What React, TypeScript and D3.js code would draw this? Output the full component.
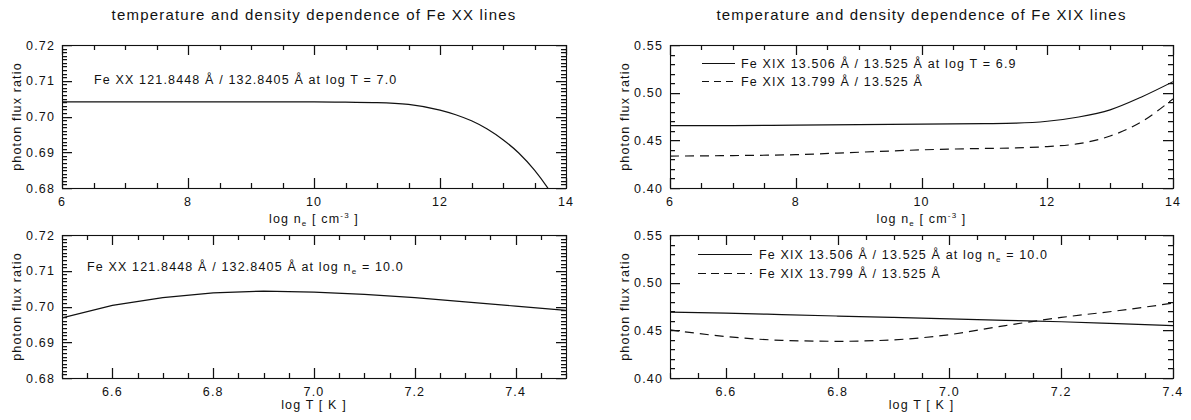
import React from "react";
import * as d3 from "d3";

// Fe XX 121.8448 / 132.8405 ratio versus electron density at log T = 7.0
const FE20_NE = [6, 7, 8, 9, 10, 10.5, 11, 11.5, 12, 12.25, 12.5, 12.75, 13, 13.25, 13.5, 13.75, 14];
const FE20_NE_RATIO = [0.7041, 0.7041, 0.7041, 0.7041, 0.7041, 0.704, 0.7039, 0.7034, 0.7018, 0.7005, 0.6988, 0.6965, 0.6935, 0.6898, 0.685, 0.679, 0.672];

// Fe XX ratio versus temperature at log ne = 10
const FE20_T = [6.5, 6.6, 6.7, 6.8, 6.9, 7.0, 7.1, 7.2, 7.3, 7.4, 7.5];
const FE20_T_RATIO = [0.6968, 0.7003, 0.7025, 0.7038, 0.7043, 0.704, 0.7034, 0.7025, 0.7013, 0.7001, 0.6989];

// Fe XIX ratios versus electron density at log T = 6.9
const FE19_NE = [6, 7, 8, 9, 10, 11, 11.5, 12, 12.5, 13, 13.5, 14];
const FE19_NE_506 = [0.4655, 0.4655, 0.466, 0.4665, 0.467, 0.4675, 0.468, 0.47, 0.4745, 0.482, 0.4955, 0.5115];
const FE19_NE_799 = [0.4335, 0.434, 0.435, 0.4375, 0.44, 0.4415, 0.442, 0.4435, 0.4465, 0.4545, 0.4695, 0.4935];

// Fe XIX ratios versus temperature at log ne = 10
const FE19_T = [6.5, 6.6, 6.7, 6.8, 6.9, 7.0, 7.1, 7.2, 7.3, 7.4];
const FE19_T_506 = [0.469, 0.468, 0.4665, 0.465, 0.4635, 0.462, 0.4605, 0.459, 0.457, 0.455];
const FE19_T_799 = [0.4505, 0.4435, 0.4395, 0.4385, 0.44, 0.4455, 0.455, 0.4635, 0.4705, 0.4785];

const FONT = "'Liberation Sans', Arial, Helvetica, sans-serif";
const SMALL = 12.5;
const LS = 1.15;
const INK = "#111";

type Series = { x: number[]; y: number[]; dashed?: boolean; smooth?: boolean };

function tickValues(lo: number, hi: number, step: number): number[] {
  const out: number[] = [];
  const start = Math.ceil(lo / step - 1e-9);
  for (let i = start; i * step <= hi + 1e-9; i++) out.push(+(i * step).toFixed(6));
  return out;
}

type PanelProps = {
  id: string;
  x0: number;
  y0: number;
  w: number;
  h: number;
  xDomain: [number, number];
  yDomain: [number, number];
  xMajor: number;
  xMinor: number;
  yMajor: number;
  yMinor: number;
  xFmt: string;
  yFmt: string;
  series: Series[];
};

function Panel(p: PanelProps) {
  const x = d3.scaleLinear().domain(p.xDomain).range([p.x0, p.x0 + p.w]);
  const y = d3.scaleLinear().domain(p.yDomain).range([p.y0 + p.h, p.y0]);
  const x1 = p.x0 + p.w;
  const y1 = p.y0 + p.h;
  const majLen = 10;
  const minLen = 5;
  const xMaj = tickValues(p.xDomain[0], p.xDomain[1], p.xMajor);
  const xMin = tickValues(p.xDomain[0], p.xDomain[1], p.xMinor);
  const yMaj = tickValues(p.yDomain[0], p.yDomain[1], p.yMajor);
  const yMin = tickValues(p.yDomain[0], p.yDomain[1], p.yMinor);
  const fx = d3.format(p.xFmt);
  const fy = d3.format(p.yFmt);

  // tick marks on all four sides, built as one path
  let tickPath = "";
  const addX = (v: number, len: number) => {
    const px = Math.round(x(v)) + 0.5;
    tickPath += `M${px},${y1}V${y1 - len}M${px},${p.y0}V${p.y0 + len}`;
  };
  const addY = (v: number, len: number) => {
    const py = Math.round(y(v)) + 0.5;
    tickPath += `M${p.x0},${py}H${p.x0 + len}M${x1},${py}H${x1 - len}`;
  };
  xMin.forEach((v) => addX(v, minLen));
  xMaj.forEach((v) => addX(v, majLen));
  yMin.forEach((v) => addY(v, minLen));
  yMaj.forEach((v) => addY(v, majLen));

  return (
    <g>
      <defs>
        <clipPath id={p.id}>
          <rect x={p.x0} y={p.y0} width={p.w} height={p.h} />
        </clipPath>
      </defs>
      <g clipPath={`url(#${p.id})`} fill="none" stroke={INK} strokeWidth={1.2}>
        {p.series.map((s, i) => {
          const line = d3
            .line<number>()
            .x((_, j) => x(s.x[j]))
            .y((v) => y(v))
            .curve(s.smooth ? d3.curveMonotoneX : d3.curveLinear);
          return <path key={i} d={line(s.y) || ""} strokeDasharray={s.dashed ? "9,6" : undefined} />;
        })}
      </g>
      <rect x={p.x0 + 0.5} y={p.y0 + 0.5} width={p.w} height={p.h} fill="none" stroke={INK} strokeWidth={1.1} />
      <path d={tickPath} fill="none" stroke={INK} strokeWidth={1.25} />
      <g fontFamily={FONT} fontSize={SMALL} letterSpacing={LS} fill={INK}>
        {xMaj.map((v, i) => (
          <text key={"xl" + i} x={x(v)} y={y1 + 18} textAnchor="middle">
            {fx(v)}
          </text>
        ))}
        {yMaj.map((v, i) => (
          <text key={"yl" + i} x={p.x0 - 7} y={y(v) + 4.5} textAnchor="end">
            {fy(v)}
          </text>
        ))}
        <text
          transform={`translate(${p.x0 - 41},${p.y0 + p.h / 2}) rotate(-90)`}
          textAnchor="middle"
        >
          photon flux ratio
        </text>
      </g>
    </g>
  );
}

function NeTitle({ cx, y }: { cx: number; y: number }) {
  return (
    <text x={cx} y={y} textAnchor="middle" fontFamily={FONT} fontSize={SMALL} letterSpacing={LS} fill={INK}>
      log n
      <tspan fontSize={8} dy={3}>e</tspan>
      <tspan dy={-3}> [ cm</tspan>
      <tspan fontSize={8} dy={-5}>-3</tspan>
      <tspan dy={5}> ]</tspan>
    </text>
  );
}

function TTitle({ cx, y }: { cx: number; y: number }) {
  return (
    <text x={cx} y={y} textAnchor="middle" fontFamily={FONT} fontSize={SMALL} letterSpacing={LS} fill={INK}>
      log T [ K ]
    </text>
  );
}

export default function App() {
  const L = 62;
  const R = 670;
  const WL = 504;
  const WR = 503;
  const TOP = 45;
  const BOT = 235;
  const H = 143;

  return (
    <svg width={1191} height={420} style={{ display: "block", margin: "-8px", background: "#fff" }}>
      <rect width={1191} height={420} fill="#fff" />
      <g fontFamily={FONT} fontSize={15} letterSpacing={1.2} textAnchor="middle" fill={INK}>
        <text x={L + WL / 2} y={20}>temperature and density dependence of Fe XX lines</text>
        <text x={R + WR / 2} y={20}>temperature and density dependence of Fe XIX lines</text>
      </g>

      <Panel
        id="c1"
        x0={L} y0={TOP} w={WL} h={H}
        xDomain={[6, 14]} yDomain={[0.68, 0.72]}
        xMajor={2} xMinor={0.5} yMajor={0.01} yMinor={0.001}
        xFmt="d" yFmt=".2f"
        series={[{ x: FE20_NE, y: FE20_NE_RATIO, smooth: true }]}
      />
      <Panel
        id="c2"
        x0={L} y0={BOT} w={WL} h={H}
        xDomain={[6.5, 7.5]} yDomain={[0.68, 0.72]}
        xMajor={0.2} xMinor={0.05} yMajor={0.01} yMinor={0.001}
        xFmt=".1f" yFmt=".2f"
        series={[{ x: FE20_T, y: FE20_T_RATIO }]}
      />
      <Panel
        id="c3"
        x0={R} y0={TOP} w={WR} h={H}
        xDomain={[6, 14]} yDomain={[0.4, 0.55]}
        xMajor={2} xMinor={0.5} yMajor={0.05} yMinor={0.01}
        xFmt="d" yFmt=".2f"
        series={[
          { x: FE19_NE, y: FE19_NE_506, smooth: true },
          { x: FE19_NE, y: FE19_NE_799, smooth: true, dashed: true },
        ]}
      />
      <Panel
        id="c4"
        x0={R} y0={BOT} w={WR} h={H}
        xDomain={[6.5, 7.4]} yDomain={[0.4, 0.55]}
        xMajor={0.2} xMinor={0.05} yMajor={0.05} yMinor={0.01}
        xFmt=".1f" yFmt=".2f"
        series={[
          { x: FE19_T, y: FE19_T_506, smooth: true },
          { x: FE19_T, y: FE19_T_799, smooth: true, dashed: true },
        ]}
      />

      <NeTitle cx={L + WL / 2} y={223} />
      <NeTitle cx={R + WR / 2} y={223} />
      <TTitle cx={L + WL / 2} y={409} />
      <TTitle cx={R + WR / 2} y={409} />

      <g fontFamily={FONT} fontSize={SMALL} letterSpacing={LS} fill={INK}>
        <text x={94} y={84}>Fe XX 121.8448 Å / 132.8405 Å at log T = 7.0</text>
        <text x={87} y={271}>
          Fe XX 121.8448 Å / 132.8405 Å at log n
          <tspan fontSize={8} dy={3}>e</tspan>
          <tspan dy={-3}> = 10.0</tspan>
        </text>

        <line x1={702} x2={735} y1={63.5} y2={63.5} stroke={INK} strokeWidth={1.2} />
        <line x1={702} x2={735} y1={81.5} y2={81.5} stroke={INK} strokeWidth={1.2} strokeDasharray="7,5" />
        <text x={741} y={68}>Fe XIX 13.506 Å / 13.525 Å at log T = 6.9</text>
        <text x={741} y={86}>Fe XIX 13.799 Å / 13.525 Å</text>

        <line x1={698} x2={752} y1={254.5} y2={254.5} stroke={INK} strokeWidth={1.2} />
        <line x1={698} x2={752} y1={273.5} y2={273.5} stroke={INK} strokeWidth={1.2} strokeDasharray="8,5" />
        <text x={759} y={259}>
          Fe XIX 13.506 Å / 13.525 Å at log n
          <tspan fontSize={8} dy={3}>e</tspan>
          <tspan dy={-3}> = 10.0</tspan>
        </text>
        <text x={759} y={278}>Fe XIX 13.799 Å / 13.525 Å</text>
      </g>
    </svg>
  );
}
